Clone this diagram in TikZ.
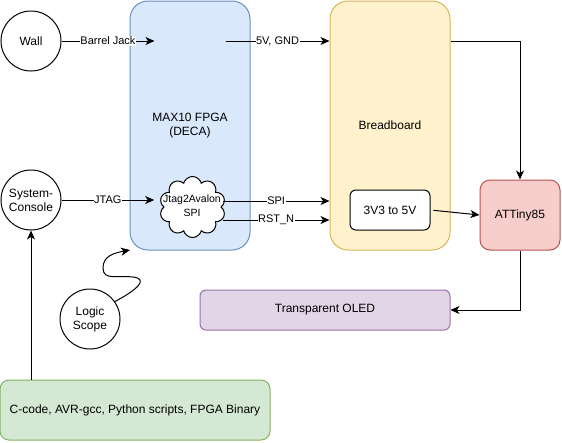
\documentclass[tikz,border=0pt]{standalone}
\usepackage{fontspec}
\setmainfont{Liberation Sans}
\usetikzlibrary{shapes.symbols,arrows.meta,calc}
\definecolor{fpgaF}{HTML}{DAE8FC}\definecolor{fpgaD}{HTML}{6C8EBF}
\definecolor{brdF}{HTML}{FFF2CC}\definecolor{brdD}{HTML}{D6B656}
\definecolor{attF}{HTML}{F8CECC}\definecolor{attD}{HTML}{B85450}
\definecolor{oledF}{HTML}{E1D5E7}\definecolor{oledD}{HTML}{9673A6}
\definecolor{grnF}{HTML}{D5E8D4}\definecolor{grnD}{HTML}{82B366}
\begin{document}
\begin{tikzpicture}[x=1pt,y=-1pt,line width=1pt,
  every node/.style={font=\fontsize{12}{14}\selectfont,align=center},
  circ/.style={circle,draw,minimum size=60pt,inner sep=0pt},
  rbox/.style={draw,rounded corners=#1,inner sep=0pt},
  arr/.style={-{Stealth[length=9pt,width=8pt,inset=2.5pt]}},
  lbl/.style={fill=white,inner sep=0.5pt,font=\fontsize{11}{13}\selectfont}]
\useasboundingbox (0,0) rectangle (562,442);
\node[circ] (wall) at (31,41) {Wall};
\node[circ] (sys) at (31,200) {System-\\Console};
\node[circ] (logic) at (90,319) {Logic\\Scope};
\node[rbox=18pt,fill=fpgaF,draw=fpgaD,minimum width=120pt,minimum height=249pt] (fpga) at (190,125.5) {MAX10 FPGA\\(DECA)};
\node[rbox=18pt,fill=brdF,draw=brdD,minimum width=120pt,minimum height=249pt] (bread) at (390,125.5) {Breadboard};
\node[rbox=6pt,fill=white,draw=black,minimum width=80pt,minimum height=40pt] (conv) at (390,210) {3V3 to 5V};
\node[rbox=10pt,fill=attF,draw=attD,minimum width=80pt,minimum height=70pt] (att) at (520,215) {ATTiny85};
\node[rbox=6pt,fill=oledF,draw=oledD,minimum width=250pt,minimum height=40pt] (oled) at (325,310) {Transparent OLED};
\node[rbox=9pt,fill=grnF,draw=grnD,minimum width=270pt,minimum height=60pt] (green) at (135,410) {C-code, AVR-gcc, Python scripts, FPGA Binary};
\node[cloud,cloud ignores aspect,draw,fill=white,cloud puffs=10,minimum width=66pt,minimum height=61pt,inner sep=0pt] (cloud) at (192.5,207) {};
\node[font=\fontsize{10.5}{14}\selectfont,inner sep=0pt] (cloudtxt) at (192,206) {Jtag2Avalon\\SPI};
\node[minimum width=70pt,minimum height=10pt,inner sep=0pt] (pwr) at (190,41) {};
\draw[arr] (wall) -- (pwr.west) node[lbl,midway]{Barrel Jack};
\draw[arr] (pwr.east) -- (bread.west |- pwr) node[lbl,midway]{5V, GND};
\draw[arr] (sys.east) -- ([xshift=-9pt]cloud.west |- sys) node[lbl,midway]{JTAG};
\draw[arr] ([xshift=1pt]cloud.east |- 0,201) -- (bread.west |- 0,201) node[lbl,midway]{SPI};
\draw[arr] ([xshift=1pt]cloud.east |- 0,220) -- (bread.west |- 0,220) node[lbl,midway]{RST\_N};
\draw[arr,shorten <=3pt] (conv.east) -- (att.west);
\draw[arr] (bread.east |- pwr) -| (att.north);
\draw[arr] (att.south) |- (oled.east);
\draw[arr] (green.north -| sys) -- (sys.south);
\coordinate (tip) at (130,250);
\draw[arr] (logic.35) .. controls (135,291) and (150,279) .. (133,277)
  .. controls (118,275) and (103,281) .. (103,268)
  .. controls (103,256) and (114,253) .. (tip);
\end{tikzpicture}
\end{document}
